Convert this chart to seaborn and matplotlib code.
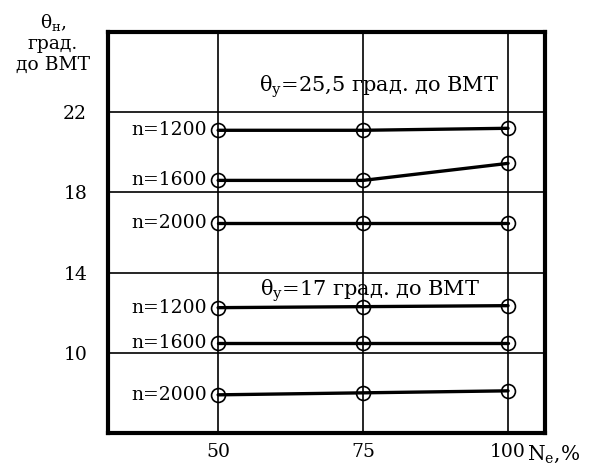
import matplotlib
matplotlib.use("Agg")
import matplotlib.pyplot as plt
import seaborn as sns
import pandas as pd

# Data
loads = [50, 75, 100]
speeds = ["n=1200", "n=1600", "n=2000"]
upper_1200 = [21.1, 21.1, 21.2]
upper_1600 = [18.6, 18.6, 19.45]
upper_2000 = [16.45, 16.45, 16.45]
lower_1200 = [12.25, 12.3, 12.35]
lower_1600 = [10.5, 10.5, 10.5]
lower_2000 = [7.9, 8.0, 8.1]
y_ticks = [10, 14, 18, 22]
x_ticks = [50, 75, 100]
upper_note = "θ$_{\\mathrm{у}}$=25,5 град. до ВМТ"
lower_note = "θ$_{\\mathrm{у}}$=17 град. до ВМТ"
y_label = "θ$_{\\mathrm{н}}$,\nград.\nдо ВМТ"
x_label = "N$_{\\mathrm{е}}$,%"

sns.set_theme(style="white")
plt.rcParams["font.family"] = ["DejaVu Serif"]
plt.rcParams["mathtext.fontset"] = "custom"
plt.rcParams["mathtext.rm"] = "DejaVu Serif"
plt.rcParams["mathtext.it"] = "DejaVu Serif"
plt.rcParams["text.color"] = "black"
plt.rcParams["xtick.color"] = "black"
plt.rcParams["ytick.color"] = "black"
plt.rcParams["xtick.labelcolor"] = "black"
plt.rcParams["ytick.labelcolor"] = "black"

FS = 13.5

rows = []
for grp, vals in [("upper", [upper_1200, upper_1600, upper_2000]),
                  ("lower", [lower_1200, lower_1600, lower_2000])]:
    for s, v in zip(speeds, vals):
        for x, y in zip(loads, v):
            rows.append({"load": x, "theta": y, "group": grp, "speed": s})
df = pd.DataFrame(rows)

fig = plt.figure(figsize=(5.9, 4.65), dpi=100)
ax = fig.add_axes([0.183, 0.069, 0.741, 0.862])

for (grp, spd), d in df.groupby(["group", "speed"], sort=False):
    sns.lineplot(data=d, x="load", y="theta", ax=ax, color="black", lw=2.4,
                 marker="o", markersize=10, markerfacecolor="none",
                 markeredgecolor="black", markeredgewidth=1.2, zorder=3)
    first = d.iloc[0]
    ax.text(first["load"] - 1.9, first["theta"], spd,
            ha="right", va="center", fontsize=FS, color="black")

ax.set_xlim(31, 106.4)
ax.set_ylim(6, 26)
ax.set_xticks(x_ticks)
ax.set_yticks(y_ticks)
ax.set_xticklabels([str(t) for t in x_ticks], fontsize=FS)
ax.set_yticklabels([str(t) for t in y_ticks], fontsize=FS)
ax.tick_params(axis="x", length=0, pad=7, labelcolor="black")
ax.tick_params(axis="y", length=0, pad=15, labelcolor="black")
ax.grid(True, color="black", lw=1.2)
ax.set_axisbelow(True)
for sp in ax.spines.values():
    sp.set_color("black")
    sp.set_linewidth(3)
ax.set_xlabel("")
ax.set_ylabel("")

ax.text(77.8, 23.25, upper_note, ha="center", va="center", fontsize=15, color="black")
ax.text(76.2, 13.1, lower_note, ha="center", va="center", fontsize=15, color="black")
fig.text(0.09, 0.975, y_label, ha="center", va="top", fontsize=FS,
         linespacing=1.2, color="black")
ax.text(103.3, -0.025, x_label, transform=ax.get_xaxis_transform(),
        ha="left", va="top", fontsize=14.5, color="black")

fig.savefig("out.png", dpi=100, facecolor="white")
